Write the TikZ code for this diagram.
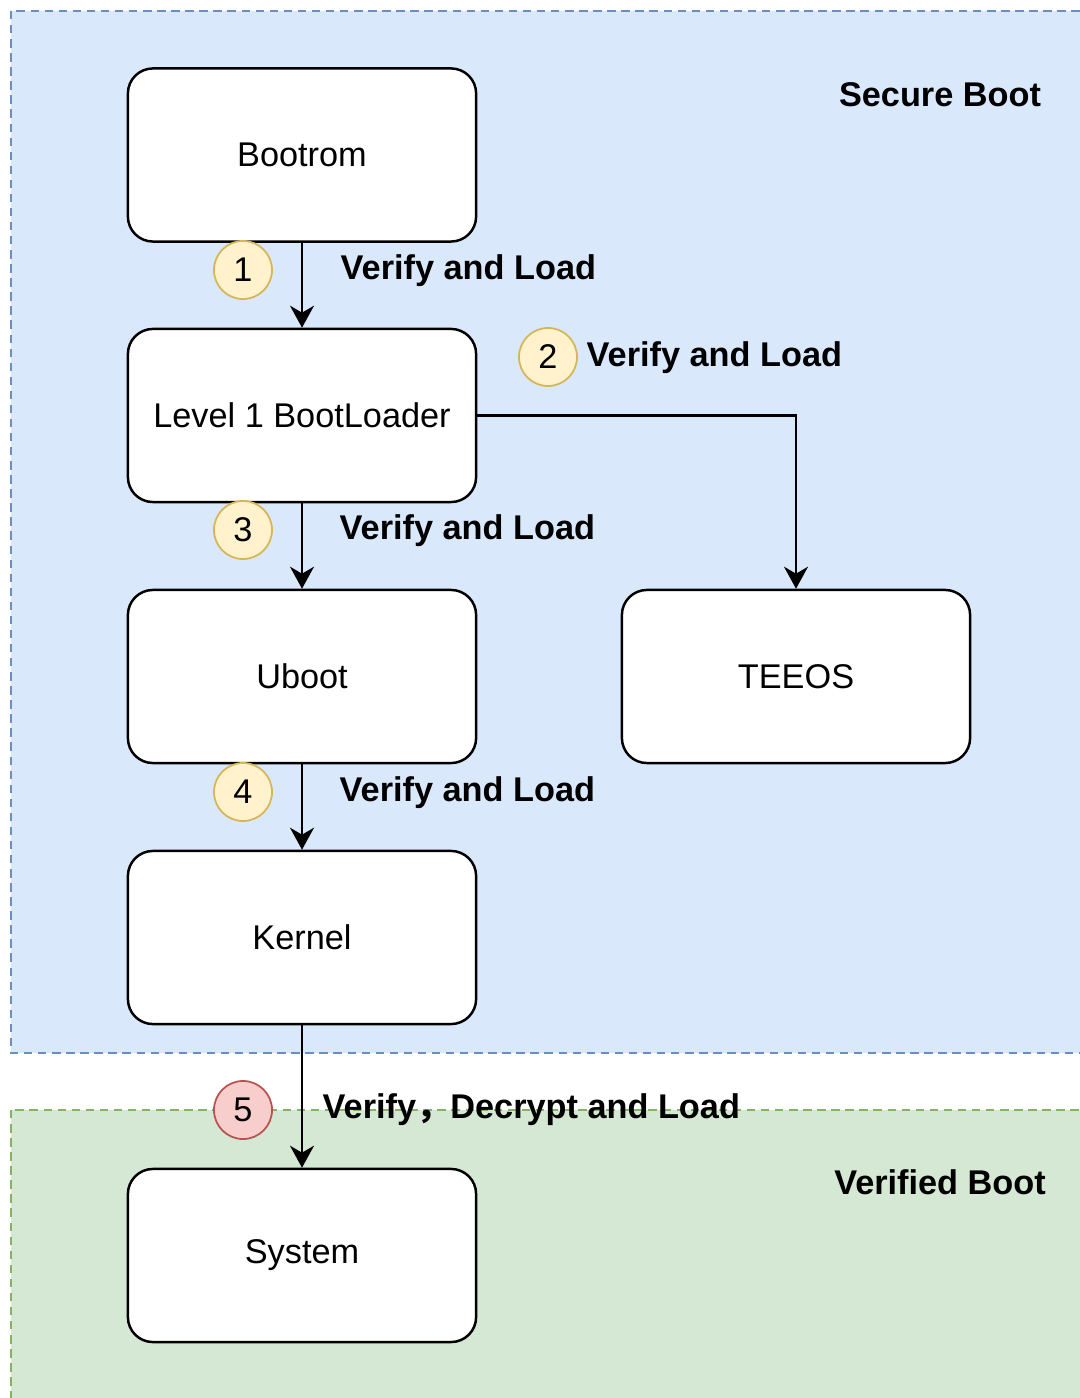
\documentclass[tikz,border=0pt]{standalone}
\usepackage{fontspec}
\setmainfont{Liberation Sans}
\newfontfamily\cjk{Noto Sans CJK SC}
\usetikzlibrary{arrows.meta}

\definecolor{secfill}{HTML}{DAE8FC}
\definecolor{secdraw}{HTML}{6C8EBF}
\definecolor{verfill}{HTML}{D5E8D4}
\definecolor{verdraw}{HTML}{82B366}
\definecolor{numfill}{HTML}{FFF2CC}
\definecolor{numdraw}{HTML}{D6B656}
\definecolor{redfill}{HTML}{F8CECC}
\definecolor{reddraw}{HTML}{B85450}

\tikzset{
  zone/.style={line width=0.75pt, dash pattern=on 2.4pt off 1.6pt},
  stage/.style={draw, fill=white, line width=0.7pt, rounded corners=0.25cm,
    minimum width=3.48cm, minimum height=1.73cm, inner sep=0},
  stepnum/.style={circle, draw=numdraw, fill=numfill, line width=0.5pt,
    minimum size=0.58cm, inner sep=0},
  steplabel/.style={anchor=west, inner sep=0, font=\fontsize{9.75}{11.8}\selectfont\bfseries},
  flow/.style={-{Stealth[length=0.22cm, width=0.24cm, inset=0.07cm]}, line width=0.7pt}
}

\begin{document}
\begin{tikzpicture}[x=0.01cm, y=-0.01cm, font=\fontsize{9.75}{11.8}\selectfont]
    \useasboundingbox (0,0) rectangle (1080,1398);
    \clip (0,0) rectangle (1080,1398);

    % Zones
    \draw[zone, draw=secdraw, fill=secfill] (11,11) rectangle (1100,1053);
    \draw[zone, draw=verdraw, fill=verfill] (11,1110) rectangle (1100,1420);
    \node[font=\fontsize{9.75}{11.8}\selectfont\bfseries] (secure) at (940,95) {Secure Boot};
    \node[font=\fontsize{9.75}{11.8}\selectfont\bfseries] (verified) at (940,1182) {Verified Boot};

    % Boot stages
    \node[stage] (bootrom) at (302,155) {Bootrom};
    \node[stage] (loader)  at (302,415.5) {Level 1 BootLoader};
    \node[stage] (uboot)   at (302,676.5) {Uboot};
    \node[stage] (teeos)   at (796,676.5) {TEEOS};
    \node[stage] (kernel)  at (302,937.5) {Kernel};
    \node[stage] (system)  at (302,1255.5) {System};

    % Connectors
    \draw[flow] (bootrom.south) -- (loader.north);
    \draw[flow] (loader.east) -| (teeos.north);
    \draw[flow] (loader.south) -- (uboot.north);
    \draw[flow] (uboot.south) -- (kernel.north);
    \draw[flow] (kernel.south) -- (system.north);

    % Step numbers and labels
    \node[stepnum] (n1) at (243,270) {1};
    \node[steplabel] (l1) at (340,271) {Verify and Load};
    \node[stepnum] (n2) at (548,357) {2};
    \node[steplabel] (l2) at (586,358) {Verify and Load};
    \node[stepnum] (n3) at (243,530) {3};
    \node[steplabel] (l3) at (339,531) {Verify and Load};
    \node[stepnum] (n4) at (243,792) {4};
    \node[steplabel] (l4) at (339,793) {Verify and Load};
    \node[stepnum, draw=reddraw, fill=redfill] (n5) at (243,1110) {5};
    \node[steplabel] (l5) at (322,1110) {Verify{\cjk ，}Decrypt and Load};
\end{tikzpicture}
\end{document}
